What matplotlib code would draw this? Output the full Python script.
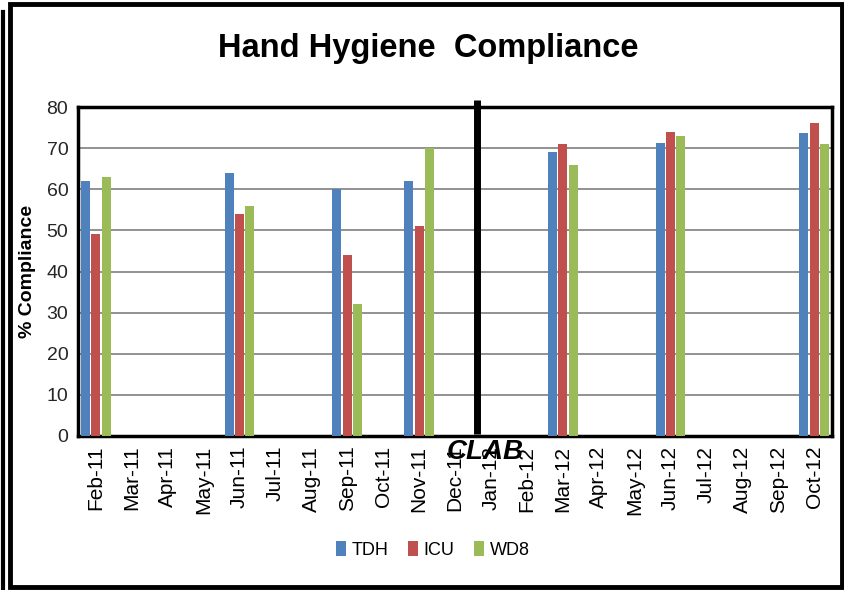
import numpy as np
import matplotlib
matplotlib.use("Agg")
import matplotlib.pyplot as plt
from matplotlib.patches import Rectangle

# Données
months = ["Feb-11", "Mar-11", "Apr-11", "May-11", "Jun-11", "Jul-11", "Aug-11",
          "Sep-11", "Oct-11", "Nov-11", "Dec-11", "Jan-12", "Feb-12", "Mar-12",
          "Apr-12", "May-12", "Jun-12", "Jul-12", "Aug-12", "Sep-12", "Oct-12"]
nan = np.nan
tdh = [62, nan, nan, nan, 64, nan, nan, 60, nan, 62, nan, nan, nan, 69,
       nan, nan, 71.3, nan, nan, nan, 73.6]
icu = [49, nan, nan, nan, 54, nan, nan, 44, nan, 51, nan, nan, nan, 71,
       nan, nan, 74, nan, nan, nan, 76]
wd8 = [63, nan, nan, nan, 56, nan, nan, 32, nan, 70, nan, nan, nan, 66,
       nan, nan, 73, nan, nan, nan, 71]
series = {"TDH": tdh, "ICU": icu, "WD8": wd8}
colors = {"TDH": "#4F81BD", "ICU": "#C0504D", "WD8": "#9BBB59"}
clab_pos = 10.6

plt.rcParams["font.family"] = ["Liberation Sans", "DejaVu Sans"]

fig = plt.figure(figsize=(8.45, 5.9), dpi=100)
ax = fig.add_axes([78 / 845, 1 - 436 / 590, 754 / 845, 329 / 590])

x = np.arange(len(months))
offsets = [-0.29, 0.0, 0.29]
for off, (name, vals) in zip(offsets, series.items()):
    ax.bar(x + off, vals, width=0.25, color=colors[name], label=name, zorder=3)

ax.set_xlim(-0.5, len(months) - 0.5)
ax.set_ylim(0, 80)
ax.set_yticks(range(0, 81, 10))
ax.yaxis.grid(True, color="#7f7f7f", linewidth=1.2, zorder=0)
ax.set_xticks(x)
ax.set_xticklabels(months, rotation=90, fontsize=15)
ax.tick_params(axis="y", labelsize=14, colors="#262626")
ax.tick_params(length=0, pad=7)
for sp in ax.spines.values():
    sp.set_linewidth(2.5)
    sp.set_color("black")

# Ligne CLAB
ax.plot([clab_pos, clab_pos], [0.4, 81.7], color="black", linewidth=5,
        clip_on=False, zorder=5, solid_capstyle="butt")
ax.text(clab_pos + 0.25, -4, "CLAB", fontsize=20, fontweight="bold",
        fontstyle="italic", ha="center", va="center", zorder=6)

fig.text(28 / 845, 1 - 271 / 590, "% Compliance", rotation=90, fontsize=14,
         fontweight="bold", ha="center", va="center")
fig.text(428 / 845, 1 - 48 / 590, "Hand Hygiene  Compliance", fontsize=23.5,
         fontweight="bold", ha="center", va="center")

fig.legend(loc="center", bbox_to_anchor=(433 / 845, 1 - 550 / 590), ncol=3,
           frameon=False, handlelength=0.55, handleheight=0.85, handletextpad=0.3,
           columnspacing=1.1, prop={"size": 13})

# Cadre extérieur
fig.add_artist(Rectangle((10 / 845, 3 / 590), 832 / 845, 583 / 590,
                         transform=fig.transFigure, fill=False,
                         edgecolor="black", linewidth=3.5))
fig.add_artist(plt.Line2D([3 / 845, 3 / 845], [0, 1 - 12 / 590],
                          transform=fig.transFigure, color="black", linewidth=3))

fig.savefig("out.png", dpi=100)
